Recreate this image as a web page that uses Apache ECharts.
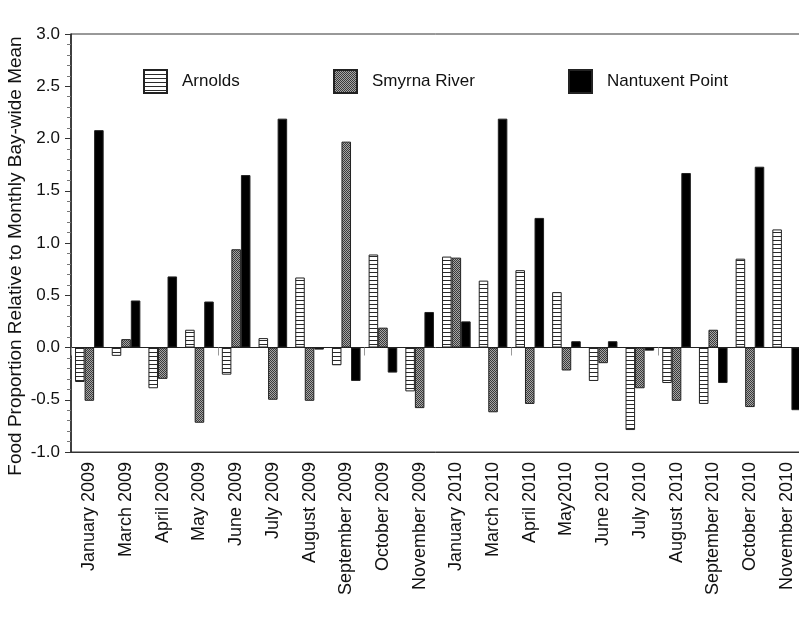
<!DOCTYPE html>
<html>
<head>
<meta charset="utf-8">
<script src="https://cdn.jsdelivr.net/npm/echarts@6/dist/echarts.min.js"></script>
<style>
  html, body { margin: 0; padding: 0; background: #fff; }
  #chart { width: 799px; height: 617px; }
</style>
</head>
<body>
<div id="chart"></div>
<script>
// Sampling months
const months = [
  'January 2009', 'March 2009', 'April 2009', 'May 2009', 'June 2009',
  'July 2009', 'August 2009', 'September 2009', 'October 2009', 'November 2009',
  'January 2010', 'March 2010', 'April 2010', 'May2010', 'June 2010',
  'July 2010', 'August 2010', 'September 2010', 'October 2010', 'November 2010'
];

// Food proportion relative to the monthly bay-wide mean, per site
const arnolds = [-0.33, -0.08, -0.39, 0.17, -0.26, 0.09, 0.67, -0.17, 0.89, -0.42,
                 0.87, 0.64, 0.74, 0.53, -0.32, -0.79, -0.34, -0.54, 0.85, 1.13];
const smyrna = [-0.51, 0.08, -0.30, -0.72, 0.94, -0.50, -0.51, 1.97, 0.19, -0.58,
                0.86, -0.62, -0.54, -0.22, -0.15, -0.39, -0.51, 0.17, -0.57, 0.00];
const nantuxent = [2.08, 0.45, 0.68, 0.44, 1.65, 2.19, -0.02, -0.32, -0.24, 0.34,
                   0.25, 2.19, 1.24, 0.06, 0.06, -0.03, 1.67, -0.34, 1.73, -0.60];

const siteNames = ['Arnolds', 'Smyrna River', 'Nantuxent Point'];

// Fill patterns: horizontal hatching and a fine stipple
function stripePattern() {
  const c = document.createElement('canvas');
  c.width = 4; c.height = 4;
  const g = c.getContext('2d');
  g.fillStyle = '#ffffff';
  g.fillRect(0, 0, 4, 4);
  g.fillStyle = '#2a2a2a';
  g.fillRect(0, 0, 4, 1);
  return { image: c, repeat: 'repeat' };
}
function stipplePattern() {
  const c = document.createElement('canvas');
  c.width = 2; c.height = 2;
  const g = c.getContext('2d');
  g.fillStyle = '#a6a6a6';
  g.fillRect(0, 0, 2, 2);
  g.fillStyle = '#3a3a3a';
  g.fillRect(0, 0, 1, 1);
  g.fillRect(1, 1, 1, 1);
  return { image: c, repeat: 'repeat' };
}

const FONT = "'Liberation Sans', Arial, Helvetica, sans-serif";
const fills = [stripePattern(), stipplePattern(), '#000000'];
const values = [arnolds, smyrna, nantuxent];
const legendLeft = [143, 333, 568];

const chart = echarts.init(document.getElementById('chart'), null, { renderer: 'canvas' });

chart.setOption({
  animation: false,
  backgroundColor: '#ffffff',
  textStyle: { fontFamily: FONT },
  grid: {
    left: 71, top: 34, width: 734, height: 418,
    containLabel: false,
    outerBoundsMode: 'none',
    show: true, borderColor: '#333', borderWidth: 1, backgroundColor: 'transparent'
  },
  legend: siteNames.map((n, i) => ({
    data: [n],
    left: legendLeft[i],
    top: 69,
    padding: 0,
    icon: 'rect',
    itemWidth: 23,
    itemHeight: 23,
    selectedMode: false,
    textStyle: { fontSize: 17, color: '#111', fontFamily: FONT, padding: [0, 0, 0, 10] }
  })),
  xAxis: [
    {
      type: 'category',
      data: months,
      axisLine: { onZero: true, lineStyle: { color: '#222', width: 1 } },
      axisTick: { show: true, length: 8, lineStyle: { color: '#999' } },
      axisLabel: { show: false },
      splitLine: { show: false }
    },
    {
      type: 'category',
      data: months,
      position: 'bottom',
      axisLine: { onZero: false, lineStyle: { color: '#333', width: 1 } },
      axisTick: { show: false },
      axisLabel: { rotate: 90, interval: 0, fontSize: 18, color: '#111', margin: 10, fontFamily: FONT },
      splitLine: { show: false }
    }
  ],
  yAxis: {
    type: 'value',
    min: -1, max: 3, interval: 0.5,
    name: 'Food Proportion Relative to Monthly Bay-wide Mean',
    nameLocation: 'middle',
    nameGap: 46,
    nameMoveOverlap: false,
    nameTextStyle: { fontSize: 19, color: '#111', fontFamily: FONT, padding: [0, 26, 0, 0] },
    axisLine: { show: true, lineStyle: { color: '#222', width: 1.5 } },
    axisTick: { show: true, length: 6, lineStyle: { color: '#333' } },
    minorTick: { show: true, splitNumber: 5, length: 4, lineStyle: { color: '#777' } },
    splitLine: { show: false },
    axisLabel: { fontSize: 17, color: '#111', margin: 11, fontFamily: FONT, formatter: v => v.toFixed(1) }
  },
  series: siteNames.map((n, i) => ({
    name: n,
    type: 'bar',
    xAxisIndex: 0,
    data: values[i],
    barGap: '0%',
    barCategoryGap: '22%',
    itemStyle: { color: fills[i], borderColor: '#222', borderWidth: 1 }
  }))
});
</script>
</body>
</html>
